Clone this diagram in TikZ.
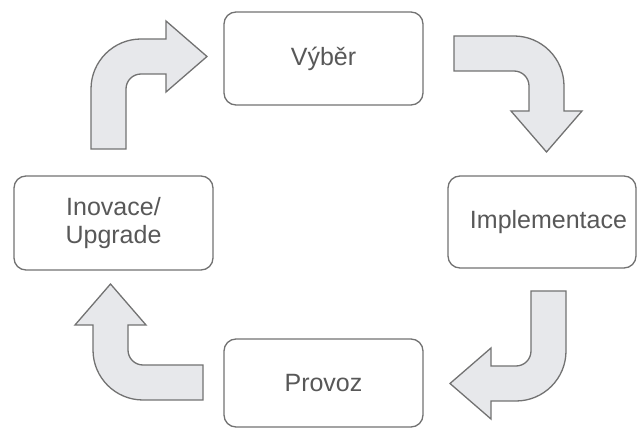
\documentclass[tikz,border=0pt]{standalone}
\usepackage{fontspec}
\setmainfont{Liberation Sans}
\definecolor{linegray}{HTML}{727272}
\definecolor{arrowfill}{HTML}{E7E8EB}
\definecolor{textgray}{HTML}{585858}
\tikzset{
  stage/.style={draw=linegray, line width=1.3pt, rounded corners=12pt, fill=white,
    text=textgray, font=\fontsize{25}{28}\selectfont, align=center, inner sep=0pt},
  pics/bentarrow/.style={code={
    \draw[draw=linegray, fill=arrowfill, line width=1.3pt]
      (-50,-60) -- (-50,0) arc[start angle=180, end angle=90, radius=50]
      -- (25,50) -- (25,68) -- (66,32.5) -- (25,-3) -- (25,15)
      -- (0,15) arc[start angle=90, end angle=180, radius=15] -- (-15,-60) -- cycle;
  }}
}

\begin{document}
\begin{tikzpicture}[x=1pt, y=1pt]
    \useasboundingbox (0,0) rectangle (638,-430);
    \node[stage, minimum width=199pt, minimum height=93pt] (vyber) at (323.5,-58.5) {Výběr};
    \node[stage, minimum width=188pt, minimum height=92pt, text width=170pt, align=right] (impl) at (542,-222) {Implementace};
    \node[stage, minimum width=199pt, minimum height=88pt] (provoz) at (323.5,-383) {Provoz};
    \node[stage, minimum width=199pt, minimum height=94pt] (inovace) at (113.5,-223) {Inovace/\\Upgrade};
    % bent arrows between the stages
    \pic at (141,-89) {bentarrow};
    \pic[rotate=-90] at (514,-86) {bentarrow};
    \pic[rotate=180] at (516,-351) {bentarrow};
    \pic[rotate=90] at (143,-350) {bentarrow};
\end{tikzpicture}
\end{document}
